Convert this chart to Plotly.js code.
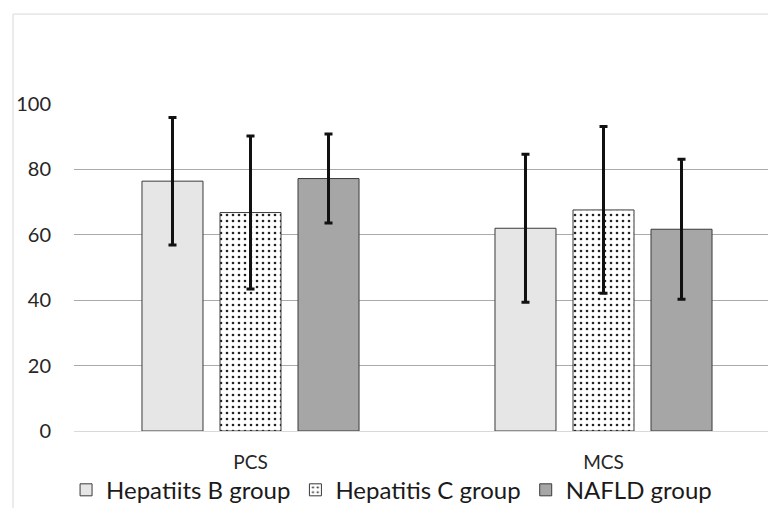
<!DOCTYPE html>
<html>
<head>
<meta charset="utf-8">
<script src="https://cdn.plot.ly/plotly-3.0.1.min.js"></script>
<style>html,body{margin:0;padding:0;background:#fff;}#chart{width:768px;height:508px;}</style>
</head>
<body>
<div id="chart"></div>
<script>
const categories = ["PCS", "MCS"];
const seriesNames = ["Hepatiits B group", "Hepatitis C group", "NAFLD group"];
const hepBMeans = [76.4, 62.0];
const hepBSD = [19.5, 22.6];
const hepCMeans = [66.8, 67.6];
const hepCSD = [23.4, 25.5];
const nafldMeans = [77.2, 61.7];
const nafldSD = [13.6, 21.4];
const yTicks = [0, 20, 40, 60, 80, 100];

const fontFam = "Lato, 'Open Sans', sans-serif";
const errStyle = {type: "data", visible: true, color: "#111111", thickness: 3, width: 4};
const edge = {color: "#3a3a3a", width: 1};

const traces = [
  {type: "bar", name: seriesNames[0], x: categories, y: hepBMeans,
   error_y: Object.assign({array: hepBSD}, errStyle),
   marker: {color: "#e6e6e6", line: edge}},
  {type: "bar", name: seriesNames[1], x: categories, y: hepCMeans,
   error_y: Object.assign({array: hepCSD}, errStyle),
   marker: {color: "#ffffff", line: edge,
            pattern: {shape: ".", fgcolor: "#222222", bgcolor: "#ffffff", size: 6, solidity: 0.15}}},
  {type: "bar", name: seriesNames[2], x: categories, y: nafldMeans,
   error_y: Object.assign({array: nafldSD}, errStyle),
   marker: {color: "#a6a6a6", line: edge}}
];

const layout = {
  width: 768, height: 508,
  margin: {l: 74, r: 0, t: 104, b: 77, pad: 0},
  paper_bgcolor: "#ffffff", plot_bgcolor: "#ffffff",
  font: {family: fontFam, size: 20, color: "#262626"},
  barmode: "group", bargap: 0.337, bargroupgap: 0.218,
  showlegend: true,
  legend: {orientation: "h", xref: "container", yref: "container",
           x: 0.086, xanchor: "left", y: 0.035, yanchor: "middle",
           font: {family: fontFam, size: 24, color: "#1a1a1a"},
           traceorder: "normal", itemwidth: 30, bgcolor: "rgba(0,0,0,0)"},
  xaxis: {type: "category", range: [-0.5, 1.466], showgrid: false, zeroline: false,
          showline: false, ticks: "", ticklabelstandoff: 18, fixedrange: true,
          tickfont: {family: fontFam, size: 19, color: "#262626"}},
  yaxis: {range: [0, 100], tickvals: yTicks, ticktext: yTicks.map(String),
          showgrid: true, gridcolor: "#aaaaaa", gridwidth: 1,
          zeroline: true, zerolinecolor: "#d9d9d9", zerolinewidth: 1,
          showline: false, ticks: "", ticklabelstandoff: 22, fixedrange: true},
  shapes: [
    {type: "line", xref: "paper", yref: "paper", x0: -0.0879, x1: -0.0879, y0: 1.275, y1: -0.3,
     line: {color: "#d9d9d9", width: 1}},
    {type: "line", xref: "paper", yref: "paper", x0: -0.0879, x1: 1.05, y0: 1.275, y1: 1.275,
     line: {color: "#d9d9d9", width: 1}}
  ]
};

Plotly.newPlot("chart", traces, layout, {displayModeBar: false, staticPlot: true});
</script>
</body>
</html>
